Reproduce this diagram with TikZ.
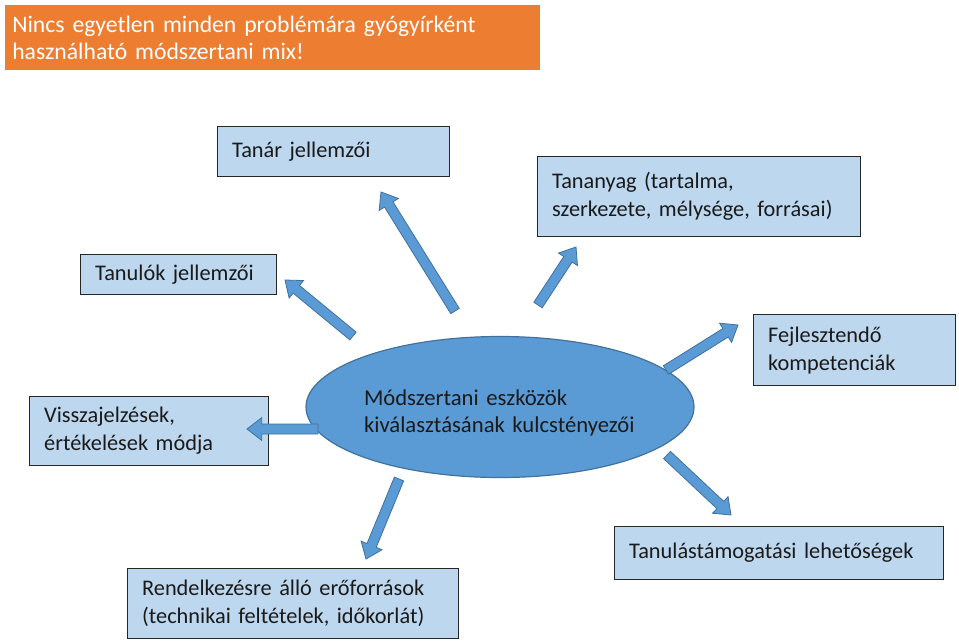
\documentclass[tikz,border=0pt]{standalone}
\usepackage{fontspec}
\setmainfont{Carlito}
\usetikzlibrary{shapes.geometric}
\usetikzlibrary{calc}
\definecolor{cimnarancs}{HTML}{ED7D31}
\definecolor{dobozkek}{HTML}{BDD7EE}
\definecolor{ellipszkek}{HTML}{5B9BD5}
\definecolor{keretkek}{HTML}{41719C}
\definecolor{szoveg}{HTML}{1A1A1A}

\tikzset{
  tenyezo/.style={draw=black!85, fill=dobozkek, line width=0.9pt, anchor=north west,
    align=left, inner xsep=10.9pt, inner ysep=0pt, text=szoveg,
    font=\fontsize{16.75}{21}\selectfont},
  nyil/.style={fill=ellipszkek, draw=keretkek, line width=0.6pt, line join=miter}
}

% block arrow from #1 to #2
\newcommand{\blokknyil}[2]{%
  \path ($(#2)!11pt!(#1)$) coordinate (bn-h);
  \draw[nyil] ($(#1)!3.75pt!90:(#2)$) -- ($(bn-h)!3.75pt!90:(#2)$)
    -- ($(bn-h)!8.5pt!90:(#2)$) -- (#2) -- ($(bn-h)!8.5pt!-90:(#2)$)
    -- ($(bn-h)!3.75pt!-90:(#2)$) -- ($(#1)!3.75pt!-90:(#2)$) -- cycle;
}

\begin{document}
\begin{tikzpicture}[x=0.75pt,y=-0.75pt]
\useasboundingbox (0,0) rectangle (959,642);

\node[anchor=north west, fill=cimnarancs, text=white, align=left, text width=390.75pt,
  inner xsep=5.25pt, inner ysep=0pt, minimum height=48.75pt,
  font=\fontsize{17.75}{20.25}\selectfont] (cim) at (5,5)
  {Nincs egyetlen minden problémára gyógyírként\\használható módszertani mix!};

\node[ellipse, fill=ellipszkek, draw=keretkek, line width=0.9pt, minimum width=291pt,
  minimum height=105.75pt, inner sep=0pt] (kozep) at (500,407) {};
\node[text width=204pt, align=left, text=szoveg, inner sep=0pt,
  font=\fontsize{17}{20.5}\selectfont] (kozep-szoveg) at ($(kozep.center)+(0,6)$)
  {Módszertani eszközök\\kiválasztásának kulcstényezői};

\node[tenyezo, text width=152.25pt, minimum height=37.5pt] (tanar) at (217,126) {Tanár jellemzői};
\node[tenyezo, text width=220.5pt, minimum height=60pt] (tananyag) at (537,156)
  {Tananyag (tartalma,\\szerkezete, mélysége, forrásai)};
\node[tenyezo, text width=125.25pt, minimum height=30pt] (tanulok) at (80,254) {Tanulók jellemzői};
\node[tenyezo, text width=157.5pt, minimum height=51.75pt] (vissza) at (29,396)
  {Visszajelzések,\\értékelések módja};
\node[tenyezo, text width=129.75pt, minimum height=53.25pt] (fejleszt) at (753,314)
  {Fejlesztendő\\kompetenciák};
\node[tenyezo, text width=225pt, minimum height=39.75pt] (tamogat) at (614,526)
  {Tanulástámogatási lehetőségek};
\node[tenyezo, text width=226.5pt, minimum height=52.5pt] (eroforras) at (127,568)
  {Rendelkezésre álló erőforrások\\(technikai feltételek, időkorlát)};

% arrow ends
\coordinate (tanulok-t) at (353,336);
\coordinate (tanulok-h) at (285,280);
\coordinate (tanar-t) at (455,311);
\coordinate (tanar-h) at (381,192);
\coordinate (tananyag-t) at (538,305);
\coordinate (tananyag-h) at (576,247);
\coordinate (fejleszt-t) at (666,370);
\coordinate (fejleszt-h) at (738,325);
\coordinate (vissza-t) at (318,429);
\coordinate (vissza-h) at (247,429);
\coordinate (eroforras-t) at (399,479);
\coordinate (eroforras-h) at (366,559);
\coordinate (tamogat-t) at (667,455);
\coordinate (tamogat-h) at (731,515);

\foreach \n in {tanulok,tanar,tananyag,fejleszt,vissza,eroforras,tamogat}
  {\blokknyil{\n-t}{\n-h}}
\end{tikzpicture}
\end{document}
